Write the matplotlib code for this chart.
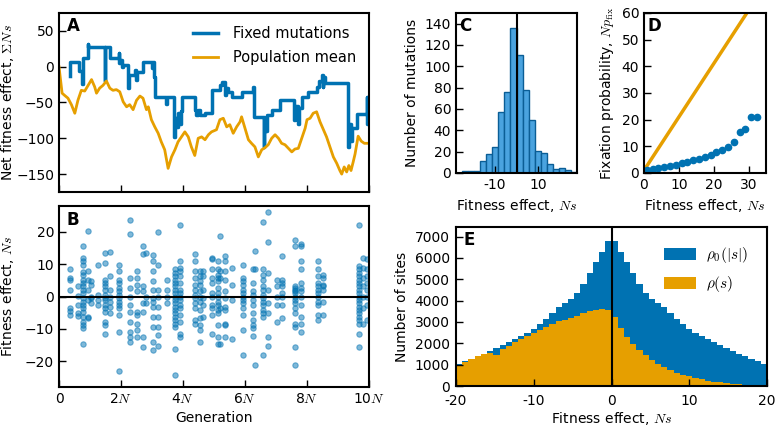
import matplotlib
matplotlib.use("Agg")
import matplotlib.pyplot as plt
import numpy as np

BLUE = "#0072B2"
ORANGE = "#E69F00"

# --- panel A: net fitness effect over time (generations in units of N)
fixed_gen = [0.34, 0.36, 0.64, 0.75, 0.77, 0.93, 0.95, 1.48, 1.49, 1.64,
             1.92, 1.94, 1.98, 2.02, 2.05, 2.24, 2.26, 2.44, 2.49, 2.52,
             2.70, 3.00, 3.02, 3.06, 3.11, 3.45, 3.47, 3.72, 3.74, 3.80,
             3.83, 3.88, 3.92, 3.96, 4.38, 4.42, 4.47, 4.55, 4.71, 4.92,
             5.19, 5.25, 5.35, 5.38, 5.45, 5.57, 5.89, 6.25, 6.30, 6.60,
             6.62, 6.66, 6.70, 6.86, 7.13, 7.58, 7.62, 7.70, 7.74, 7.83,
             8.04, 8.33, 8.40, 8.47, 8.50, 8.53, 8.58, 9.33, 9.36, 9.42,
             9.46, 9.60, 9.92, 9.94, 10.0]
fixed_sum = [-13, 7, -6, -24, 12, 32, 27, -20, 28, 12,
             19, 5, 10, 0, 3, -30, -12, -5, -18, -8,
             6, -2, 6, -14, -42, -52, -42, -98, -72, -84,
             -64, -80, -62, -42, -60, -68, -60, -67, -64, -33,
             -26, -21, -40, -30, -35, -42, -35, -28, -70, -112,
             -72, -90, -68, -60, -47, -75, -55, -80, -58, -42,
             -35, -28, -20, -12, -28, -14, -23, -112, -80, -104,
             -85, -66, -42, -80, -74]

mean_gen = [0.0, 0.10, 0.18, 0.29, 0.40, 0.51, 0.61, 0.72, 0.83, 0.94,
            1.05, 1.15, 1.21, 1.31, 1.42, 1.53, 1.64, 1.74, 1.85, 1.96,
            2.07, 2.18, 2.28, 2.39, 2.50, 2.61, 2.71, 2.82, 2.88, 2.98,
            3.09, 3.20, 3.30, 3.41, 3.52, 3.63, 3.74, 3.84, 3.95, 4.06,
            4.17, 4.27, 4.38, 4.49, 4.60, 4.71, 4.82, 4.92, 5.08, 5.19,
            5.30, 5.41, 5.51, 5.62, 5.73, 5.84, 5.89, 6.00, 6.11, 6.21,
            6.32, 6.43, 6.54, 6.65, 6.75, 6.86, 6.97, 7.08, 7.18, 7.29,
            7.40, 7.51, 7.61, 7.72, 7.83, 7.94, 8.00, 8.10, 8.20, 8.31,
            8.42, 8.53, 8.63, 8.74, 8.85, 8.96, 9.06, 9.12, 9.20, 9.28,
            9.35, 9.42, 9.49, 9.55, 9.65, 9.75, 9.85, 10.0]
mean_sum = [0, -37, -40, -44, -53, -65, -47, -33, -34, -26,
            -18, -28, -37, -30, -26, -20, -30, -33, -32, -35,
            -49, -56, -53, -60, -47, -41, -44, -60, -56, -74,
            -84, -93, -105, -116, -142, -126, -116, -105, -98, -91,
            -98, -112, -124, -100, -98, -102, -95, -91, -88, -74,
            -72, -84, -81, -93, -84, -77, -70, -86, -102, -107,
            -112, -126, -116, -113, -109, -100, -95, -100, -107, -109,
            -114, -119, -115, -114, -100, -86, -74, -72, -65, -63,
            -77, -88, -98, -112, -126, -135, -145, -150, -140, -147,
            -138, -145, -133, -122, -97, -104, -107, -107]

# --- panel B: effects of fixed mutations, grouped by sweep time
sweep_gen = [0.34, 0.62, 0.78, 0.94, 1.04, 1.26, 1.47, 1.64, 1.95, 2.28,
             2.50, 2.71, 2.82, 3.03, 3.20, 3.47, 3.74, 3.90, 4.38, 4.54,
             4.65, 4.92, 5.13, 5.19, 5.35, 5.57, 5.94, 6.26, 6.32, 6.59,
             6.75, 7.02, 7.18, 7.61, 7.82, 8.36, 8.52, 9.68, 9.82, 9.92]
sweep_ns = [
    [8.4, 5.8, 5.0, 2.1, -3.7, -4.4, -5.8],
    [3.1, 0.2, -2.6, -5.2, -6.1],
    [15.5, 12.0, 11.0, 9.9, 7.5, 6.8, 5.2, 4.2, 3.1, 2.1, 1.0, -0.5, -1.6,
     -2.6, -3.7, -4.7, -6.3, -7.9, -8.9, -9.9, -14.7],
    [20.4, 7.9, 5.2, 2.1, -1.0, -6.3, -6.8],
    [4.7, 3.7, 0.0, -0.5, -2.1],
    [9.9, 0.5, -1.0, -2.6],
    [13.6, 10.5, 5.2, 4.2, 3.1, 2.1, 0.5, -0.5, -1.0, -2.6, -3.7, -4.7,
     -7.9, -8.9, -11.7],
    [13.9, 6.3, 2.1, 0.0, -1.6, -3.1, -5.0],
    [9.6, 7.9, 5.2, 4.2, 2.6, 1.6, 0.5, -0.5, -1.6, -2.6, -3.7, -5.8,
     -11.0, -23.0],
    [23.6, 19.4, 5.8, 2.6, 0.0, -2.6, -4.7, -7.9, -11.0, -12.6, -14.1],
    [7.9, 5.8, 3.7, 1.6, -4.7, -5.8, -8.4, -10.5, -12.6],
    [15.7, 13.1, 3.1, 1.6, -2.1, -4.7, -12.6, -15.5],
    [13.6, 0.0, -2.1],
    [12.8, 11.0, 7.9, 4.7, 2.1, -0.5, -1.6, -3.1, -6.3, -9.4, -14.1, -16.5],
    [20.1, 9.6, 2.1, 0.0, -3.1, -6.3, -9.4, -12.0, -15.2],
    [5.2, 2.1, 0.0, -2.1],
    [8.4, 7.3, 6.3, 5.2, 4.2, 3.1, 2.1, 1.0, 0.0, -1.0, -2.1, -3.1, -4.2,
     -5.2, -6.3, -7.3, -8.4, -9.4, -16.2, -24.3],
    [22.2, 11.0, 8.9, 7.9, 6.3, 4.2, 2.1, 1.0, 0.0, -1.0, -2.6, -3.7, -5.8,
     -7.9, -11.5, -12.6],
    [13.1, 11.0, 7.9, 5.8, 3.7, 2.1, 0.5, -0.5, -2.1, -3.7, -7.3, -8.4],
    [7.9, 6.3, 4.7, 3.7, 1.6, 0.0, -1.6, -4.2, -6.8, -8.9, -10.5, -14.1],
    [7.9, 6.3, 2.1, -0.5, -2.6, -6.3],
    [12.0, 11.5, 8.4, 5.8, 4.2, 1.0, 0.0, -2.6, -3.7, -5.8, -11.5],
    [11.0, 8.4, 6.8, 5.8, 4.7, 2.6, 1.0, 0.0, -1.6, -2.6, -4.2, -5.2, -8.9,
     -12.6, -14.7],
    [18.8, 7.9, 5.8, -3.7, -14.7],
    [12.6, 11.0, 7.9, 5.2, 1.6, -0.5, -3.1, -4.2, -8.4, -8.9, -12.6],
    [8.9, 3.7, -1.0, -13.1],
    [9.6, 5.8, 4.7, 3.7, 2.1, 1.0, 0.0, -1.0, -2.1, -3.7, -5.8, -10.5, -18.1],
    [8.4, 4.2, 1.6, 0.5, -1.0, -2.6, -5.2, -7.3, -8.9, -9.9, -12.3],
    [14.1, 8.4, -21.2],
    [23.0, 8.4, 6.8, 5.2, 3.1, 2.1, 0.5, -0.5, -1.6, -2.6, -4.2, -5.2, -6.3,
     -18.0],
    [26.2, 17.0, 7.3, 2.1, -2.1, -5.2, -12.6, -15.2],
    [5.2, 3.1, 0.0, -2.6, -7.9],
    [12.6, 5.2, 4.2, 3.1, 1.0, 0.0, -2.6, -6.8],
    [17.6, 15.5, 3.1, 2.6, 2.1, 1.6, 1.0, 0.0, -1.0, -2.1, -3.7, -5.2, -8.4,
     -9.4, -15.7, -21.2],
    [16.2, 15.7, 11.0, 8.4, 4.2, 2.6, 1.6, 0.0, -2.6, -6.3, -8.4, -11.0],
    [11.0, 8.4, 6.3, 4.2, 3.1, 2.1, 1.0, 0.0, -1.6, -2.6, -5.8, -7.3],
    [6.8, 5.8, 3.7, 3.1, 2.1, -1.6, -5.8],
    [22.0, 9.4, 8.4, 7.3, 6.3, 5.2, 4.2, 3.1, 2.1, 1.0, 0.0, -1.0, -2.1,
     -3.1, -4.2, -5.2, -6.3, -7.3, -8.4, -11.5, -15.7],
    [12.0, 8.9, 5.8, 3.1, 0.0, -3.7, -8.4],
    [11.7, 8.4, 6.3, 4.2, 2.1, 0.0, -2.6, -7.3],
]

# --- panel C: histogram of fixed effects
hist_edges = np.linspace(-28, 28, 21)
hist_counts = [0, 2, 2, 2, 11, 18, 24, 57, 76, 136,
               111, 78, 50, 21, 19, 8, 4, 5, 3, 1]

# --- panel D: fixation probability
fix_ns = [0.8, 2.5, 4.1, 5.8, 7.5, 9.1, 10.8, 12.4, 14.1, 15.8,
          17.4, 19.1, 20.7, 22.4, 24.1, 25.7, 27.4, 29.0, 30.7, 32.4]
fix_npfix = [1.0, 1.4, 2.0, 2.4, 2.8, 3.1, 3.6, 4.2, 4.7, 5.3,
             6.0, 6.8, 7.8, 8.8, 9.7, 11.6, 15.2, 16.5, 20.9, 21.0]
theory_ns = [0, 35]
theory_npfix = [1, 71]

# --- panel E: site distributions
site_edges = np.linspace(-20, 20, 51)
rho0_abs = [6800, 6300, 5800, 5280, 4800, 4380, 4060, 3880, 3680, 3400,
            3160, 2900, 2650, 2480, 2350, 2220, 2050, 1900, 1780, 1640,
            1520, 1400, 1270, 1150, 1030]          # bins from |Ns| = 0 outward
rho_s = [1000, 1130, 1280, 1400, 1500, 1560, 1450, 1750, 1880, 2050,
         2200, 2350, 2480, 2620, 2780, 2900, 3030, 3100, 3200, 3290,
         3420, 3500, 3560, 3600, 3550,
         3250, 2700, 2300, 1990, 1680, 1440, 1200, 1050, 890, 740,
         630, 530, 450, 380, 310, 250, 200, 165, 135, 110,
         90, 70, 55, 45, 35]

plt.rcParams.update({
    "font.family": "DejaVu Sans",
    "mathtext.fontset": "cm",
    "font.size": 10,
    "axes.linewidth": 1.5,
    "xtick.direction": "in",
    "ytick.direction": "in",
    "xtick.major.size": 5,
    "ytick.major.size": 5,
    "xtick.major.width": 1,
    "ytick.major.width": 1,
})


def panel_letter(ax, letter):
    ax.text(0.025, 0.975, letter, transform=ax.transAxes, ha="left",
            va="top", fontsize=12, fontweight="bold")


fig = plt.figure(figsize=(7.77, 4.29), dpi=100)
W, H = 777.0, 429.0


def add_axes(left, top, right, bottom):
    return fig.add_axes([left / W, 1 - bottom / H, (right - left) / W,
                         (bottom - top) / H])


axA = add_axes(59, 13, 369, 192)
axB = add_axes(59, 206, 369, 387)
axC = add_axes(456, 13, 577, 173)
axD = add_axes(644, 13, 766, 173)
axE = add_axes(456, 227, 767, 386)

# A
axA.plot(fixed_gen, fixed_sum, drawstyle="steps-post", color=BLUE, lw=2.5,
         label="Fixed mutations")
axA.plot(mean_gen, mean_sum, color=ORANGE, lw=2, label="Population mean")
axA.set_xlim(0, 10)
axA.set_ylim(-175, 75)
axA.set_xticks(range(0, 11, 2))
axA.set_xticklabels([])
axA.set_yticks([-150, -100, -50, 0, 50])
axA.set_ylabel(r"Net fitness effect, $\Sigma Ns$")
axA.yaxis.set_label_coords(-0.138, 0.5)
axA.legend(loc="upper right", frameon=False, handlelength=1.7,
           handletextpad=1.0, borderaxespad=0.5, labelspacing=0.6,
           fontsize=10.5)
panel_letter(axA, "A")

# B
xs, ys = [], []
for g, vals in zip(sweep_gen, sweep_ns):
    xs += [g] * len(vals)
    ys += vals
axB.scatter(xs, ys, s=15, facecolor=BLUE, edgecolor=BLUE, alpha=0.5,
            linewidths=0.8)
axB.axhline(0, color="black", lw=1.5)
axB.set_xlim(0, 10)
axB.set_ylim(-28, 28)
axB.set_xticks(range(0, 11, 2))
axB.set_xticklabels(["0"] + [f"{k}$N$" for k in range(2, 11, 2)])
axB.set_yticks([-20, -10, 0, 10, 20])
axB.set_xlabel("Generation")
axB.set_ylabel(r"Fitness effect, $Ns$")
axB.yaxis.set_label_coords(-0.138, 0.5)
panel_letter(axB, "B")

# C
axC.bar(hist_edges[:-1], hist_counts, width=np.diff(hist_edges), align="edge",
        facecolor="#4aa3df", edgecolor="#0b5e96", lw=1)
axC.axvline(0, color="black", lw=1.5)
axC.set_xlim(-28, 28)
axC.set_ylim(0, 150)
axC.set_xticks([-10, 10])
axC.set_xticklabels(["-10", "10"])
axC.set_yticks(range(0, 141, 20))
axC.set_xlabel(r"Fitness effect, $Ns$")
axC.set_ylabel("Number of mutations")
panel_letter(axC, "C")

# D
axD.plot(theory_ns, theory_npfix, color=ORANGE, lw=2.5)
axD.plot(fix_ns, fix_npfix, "o", color=BLUE, ms=4.5)
axD.set_xlim(0, 35)
axD.set_ylim(0, 60)
axD.set_xticks([0, 10, 20, 30])
axD.set_yticks(range(0, 61, 10))
axD.set_xlabel(r"Fitness effect, $Ns$")
axD.set_ylabel(r"Fixation probability, $Np_{\rm fix}$")
panel_letter(axD, "D")

# E
rho0_full = list(rho0_abs[::-1]) + list(rho0_abs)
axE.stairs(rho0_full, site_edges, fill=True, color=BLUE,
           label=r"$\rho_0(|s|)$")
axE.stairs(rho_s, site_edges, fill=True, color=ORANGE, label=r"$\rho(s)$")
axE.axvline(0, color="black", lw=1.5)
axE.set_xlim(-20, 20)
axE.set_ylim(0, 7450)
axE.set_xticks([-20, -10, 0, 10, 20])
axE.set_xticklabels(["-20", "-10", "0", "10", "20"])
axE.set_yticks(range(0, 7001, 1000))
axE.tick_params(axis="x", pad=5.5)
axE.tick_params(axis="y", pad=4.5)
axE.set_xlabel(r"Fitness effect, $Ns$", labelpad=2)
axE.set_ylabel("Number of sites")
axE.legend(loc="upper right", frameon=False, handlelength=2.1,
           handleheight=0.85, handletextpad=0.7, labelspacing=0.6,
           fontsize=11, borderaxespad=0.8)
panel_letter(axE, "E")

for ax in (axA, axB, axC, axD, axE):
    ax.tick_params(top=False, right=False)

fig.savefig("out.png", dpi=100)
